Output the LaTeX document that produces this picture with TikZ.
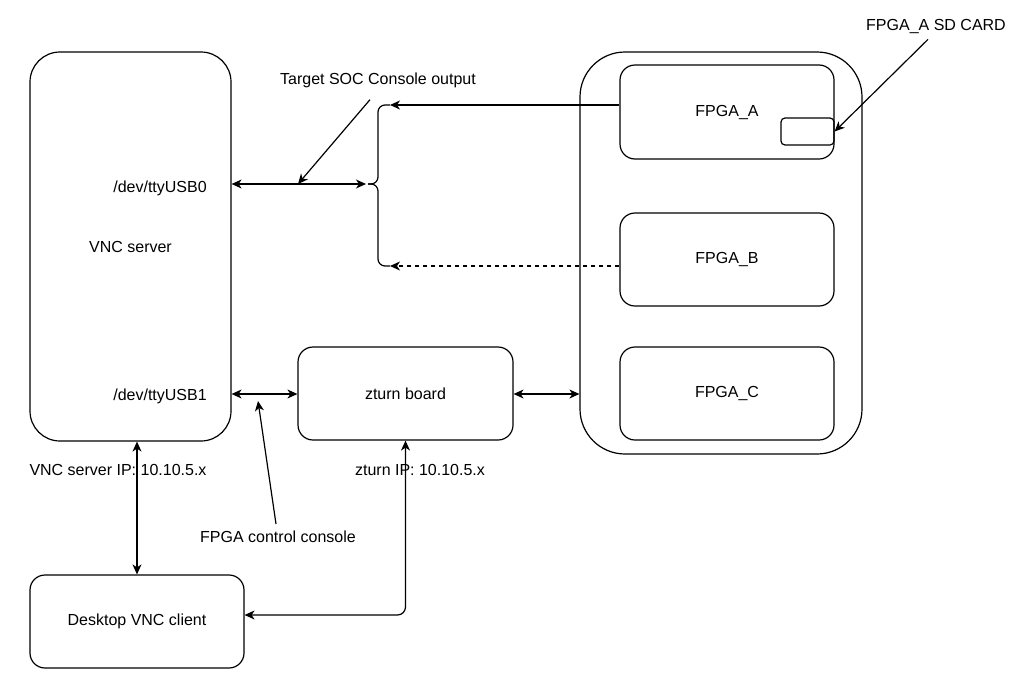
\documentclass[tikz,border=0pt]{standalone}
\usepackage{fontspec}
\setmainfont{Liberation Sans}
\usetikzlibrary{arrows.meta}
\tikzset{>={Stealth[length=10pt,width=9pt,inset=3pt]}}
\tikzset{
	box/.style={draw, line width=1.2pt, rounded corners=#1, inner sep=0pt},
	box/.default=15pt,
	link/.style={line width=1.2pt},
	lbl/.style={inner sep=1pt}
}

\begin{document}
\begin{tikzpicture}[x=1pt, y=-1pt, font=\fontsize{16}{19}\selectfont]
		\useasboundingbox (0,0) rectangle (1017,683);
		\node[box=30pt, minimum width=201pt, minimum height=389pt] (vnc) at (130.5,246.5) {\raisebox{-2pt}{VNC server}};
		\node[lbl] (usb0) at (160,188) {/dev/ttyUSB0};
		\node[lbl] (usb1) at (160,396) {/dev/ttyUSB1};
		\node[box=45pt, minimum width=282pt, minimum height=402pt] (fpgas) at (721,253) {};
		\node[box, minimum width=214pt, minimum height=94pt] (fpgaa) at (727,112) {\raisebox{-2pt}{FPGA\_A}};
		\node[box=4pt, minimum width=53pt, minimum height=27pt] (sd) at (807.5,131.5) {};
		\node[box, minimum width=214pt, minimum height=93pt] (fpgab) at (727,259.5) {\raisebox{-2pt}{FPGA\_B}};
		\node[box, minimum width=214pt, minimum height=93pt] (fpgac) at (727,393.5) {\raisebox{-2pt}{FPGA\_C}};
		\node[box, minimum width=215pt, minimum height=93pt] (zturn) at (405.5,393.5) {\raisebox{-2pt}{zturn board}};
		\node[box, minimum width=214pt, minimum height=93pt] (desk) at (137,621.5) {\raisebox{-2pt}{Desktop VNC client}};
		\node[lbl] (soclbl) at (378,80) {Target SOC Console output};
		\node[lbl] (sdlbl) at (936,27) {FPGA\_A SD CARD};
		\node[lbl] (ctrllbl) at (278,537) {FPGA control console};
		\node[lbl] (vnciplbl) at (118,470) {VNC server IP: 10.10.5.x};
		\node[lbl] (ztiplbl) at (420,470) {zturn IP: 10.10.5.x};
		\coordinate (bracetip) at (366,184);
		\coordinate (bracetop) at (390,105);
		\coordinate (bracebot) at (390,266);
		\coordinate (socpt) at (298,184);
		\coordinate (ctrlpt) at (258,401);
		\draw[link, <->] (vnc.east |- bracetip) -- (bracetip);
		\draw[link, rounded corners=7pt] (bracetop) -- (378,105) -- (378,184) -- (368,184);
		\draw[link, rounded corners=7pt] (368,184) -- (378,184) -- (378,266) -- (bracebot);
		\draw[link, ->] (fpgaa.west |- bracetop) -- (bracetop);
		\draw[link, ->, dash pattern=on 4pt off 4pt] (fpgab.west |- bracebot) -- (bracebot);
		\draw[link, ->] ([xshift=-8pt,yshift=-11pt]soclbl.south) -- (socpt);
		\draw[link, ->] ([xshift=-8pt,yshift=-4pt]sdlbl.south) -- (sd.east);
		\draw[link, <->] (vnc.east |- 0,394) -- (zturn.west |- 0,394);
		\draw[link, <->] (zturn.east |- 0,394) -- (fpgas.west |- 0,394);
		\draw[link, ->] ([xshift=-2pt,yshift=6pt]ctrllbl.north) -- (ctrlpt);
		\draw[link, <->] (vnc.south -| desk) -- (desk.north);
		\draw[link, <->, rounded corners=8pt] (zturn.south) -- (zturn.south |- 0,615) -- (desk.east |- 0,615);
	\end{tikzpicture}
\end{document}
